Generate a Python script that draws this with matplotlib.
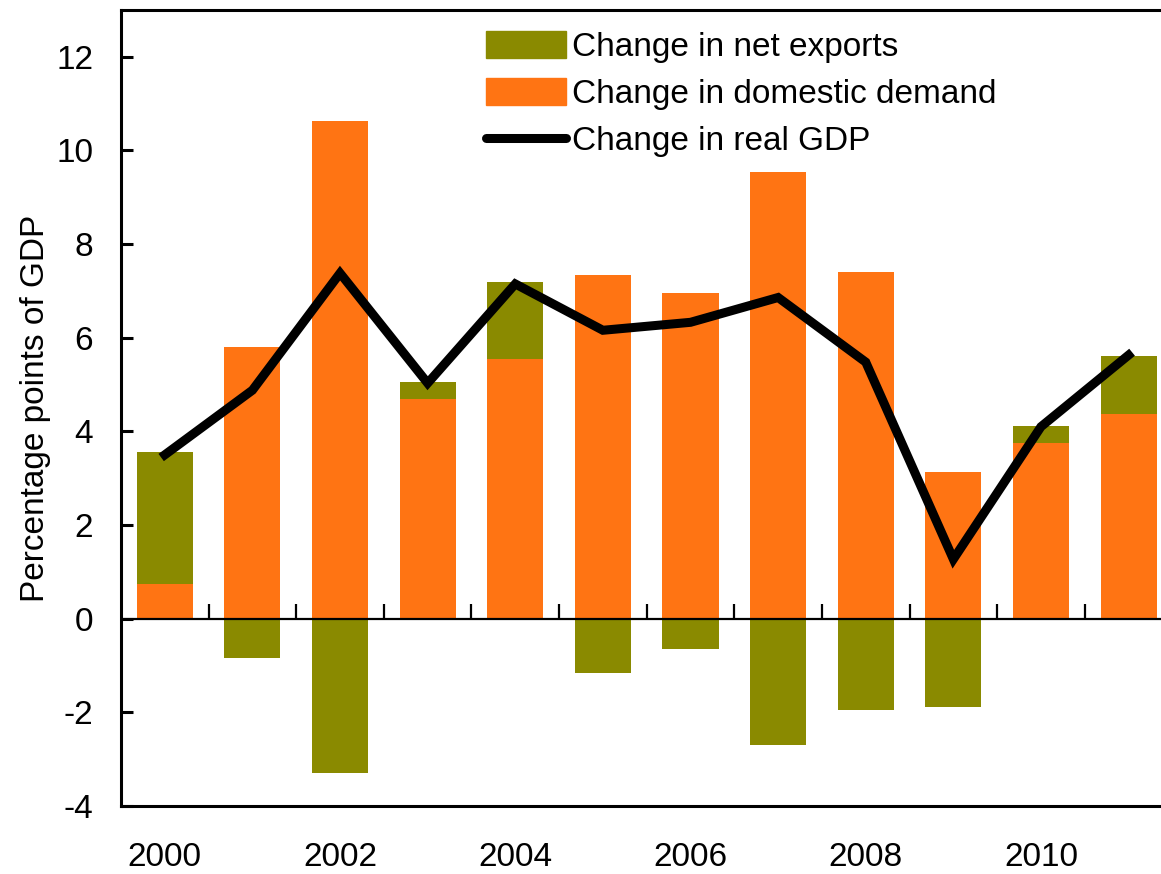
import numpy as np
import matplotlib.pyplot as plt
from matplotlib.patches import Patch
from matplotlib.lines import Line2D

plt.rcParams['font.family'] = ['Liberation Sans', 'DejaVu Sans']
plt.rcParams['axes.unicode_minus'] = False

years = np.arange(2000, 2012)
domestic = [0.74, 5.80, 10.64, 4.69, 5.54, 7.33, 6.96, 9.53, 7.41, 3.14, 3.76, 4.37]
net_exports = [2.83, -0.83, -3.30, 0.36, 1.66, -1.16, -0.65, -2.69, -1.95, -1.88, 0.36, 1.23]
real_gdp = [3.50, 4.88, 7.38, 5.03, 7.15, 6.16, 6.33, 6.86, 5.48, 1.27, 4.10, 5.63]
tick_years = [2000, 2002, 2004, 2006, 2008, 2010]

orange = '#FF7413'
olive = '#8A8A00'

fig = plt.figure(figsize=(11.61, 8.74), dpi=100)
ax = fig.add_axes([121 / 1161, 68 / 874, 1 - 121 / 1161, 796 / 874])

dom = np.array(domestic)
nx = np.array(net_exports)
nx_bottom = np.where(nx > 0, dom, 0)

ax.bar(years, dom, width=0.64, color=orange, zorder=2)
ax.bar(years, nx, width=0.64, bottom=nx_bottom, color=olive, zorder=2)

# zero line with little marks between the years
ax.axhline(0, color='black', linewidth=1.6, zorder=3)
ax.vlines(years[:-1] + 0.5, 0, 0.32, color='black', linewidth=1.6, zorder=3)

ax.plot(years, real_gdp, color='black', linewidth=6.5, solid_joinstyle='miter', zorder=4)

ax.set_xlim(1999.5, 2011.37)
ax.set_ylim(-4, 13)
ax.set_yticks(range(-4, 13, 2))
ax.set_xticks(tick_years)
ax.tick_params(axis='y', direction='in', length=8.5, width=2.2, pad=20, labelsize=24)
ax.tick_params(axis='x', length=0, pad=26, labelsize=24)

for s in ['left', 'top', 'bottom']:
    ax.spines[s].set_linewidth(2.2)
ax.spines['right'].set_visible(False)

ax.set_ylabel('Percentage points of GDP', fontsize=24, labelpad=4)

handles = [
    Patch(color=olive),
    Patch(color=orange),
    Line2D([], [], color='black', linewidth=6.5, solid_capstyle='round'),
]
labels = ['Change in net exports', 'Change in domestic demand', 'Change in real GDP']
ax.legend(handles, labels, loc='upper left', bbox_to_anchor=((479 - 121) / 1040, 0.982),
          frameon=False, fontsize=24, handlelength=2.4, handleheight=0.88,
          handletextpad=0.2, labelspacing=0.45, borderpad=0.2, borderaxespad=0)

fig.savefig('out.png', dpi=100)
